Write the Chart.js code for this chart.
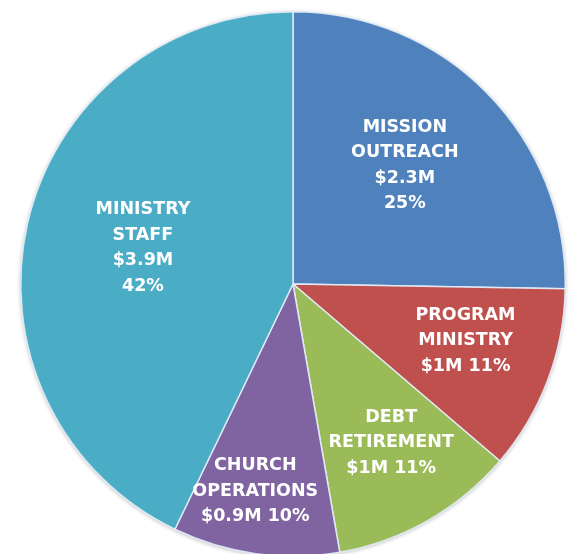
<!DOCTYPE html>
<html>
<head>
<meta charset="utf-8">
<script src="https://cdn.jsdelivr.net/npm/chart.js@4.4.1/dist/chart.umd.min.js"></script>
<style>
  html, body { margin: 0; padding: 0; background: #ffffff; overflow: hidden; width: 574px; height: 554px; }
  #wrap { position: absolute; left: 0; top: 0; width: 586px; height: 566px; }
</style>
</head>
<body>
<div id="wrap"><canvas id="c"></canvas></div>
<script>
// ---- data ----
const categories = ["MISSION\nOUTREACH", "PROGRAM\nMINISTRY", "DEBT\nRETIREMENT", "CHURCH\nOPERATIONS", "MINISTRY\nSTAFF"];
const amounts = [2.3, 1, 1, 0.9, 3.9];            // $ millions
const amountLabels = ["$2.3M", "$1M", "$1M", "$0.9M", "$3.9M"];
const percentLabels = ["25%", "11%", "11%", "10%", "42%"];

// ---- styles ----
const colors = ["#4F81BD", "#C0504D", "#9BBB59", "#8064A2", "#4BACC6"];
// how the amount/percent lines are arranged per slice: separate lines or joined
const joinValueLine = [false, true, true, true, false];
// label placement: fraction of radius and angle tweak (degrees) from slice mid-angle
const labelRadiusFrac = [0.598, 0.667, 0.685, 0.774, 0.567];
const labelAngleTweak = [-2.1, -2.6, -2.1, 2.4, 0.7];

const labelPlugin = {
  id: 'sliceLabels',
  afterDatasetsDraw(chart) {
    const ctx = chart.ctx;
    const meta = chart.getDatasetMeta(0);
    ctx.save();
    ctx.fillStyle = '#ffffff';
    ctx.font = 'bold 17.5px "DejaVu Sans", "Open Sans", sans-serif';
    ctx.textAlign = 'center';
    ctx.textBaseline = 'middle';
    const lh = 25.5;
    meta.data.forEach((arc, i) => {
      const p = arc.getProps(['x', 'y', 'startAngle', 'endAngle', 'outerRadius'], true);
      const mid = (p.startAngle + p.endAngle) / 2 + labelAngleTweak[i] * Math.PI / 180;
      const r = p.outerRadius * labelRadiusFrac[i];
      const cx = p.x + Math.cos(mid) * r;
      const cy = p.y + Math.sin(mid) * r;
      const lines = categories[i].split("\n");
      if (joinValueLine[i]) {
        lines.push(amountLabels[i] + " " + percentLabels[i]);
      } else {
        lines.push(amountLabels[i]);
        lines.push(percentLabels[i]);
      }
      const n = lines.length;
      lines.forEach((t, k) => {
        ctx.fillText(t, cx, cy + (k - (n - 1) / 2) * lh);
      });
    });
    ctx.restore();
  }
};

// soft shadow only around the outer rim of the pie
const shadowPlugin = {
  id: 'softShadow',
  beforeDatasetsDraw(chart) {
    const meta = chart.getDatasetMeta(0);
    if (!meta.data.length) return;
    const p = meta.data[0].getProps(['x', 'y', 'outerRadius'], true);
    const ctx = chart.ctx;
    ctx.save();
    ctx.shadowColor = 'rgba(0,0,0,0.3)';
    ctx.shadowBlur = 4;
    ctx.shadowOffsetY = 1;
    ctx.fillStyle = '#9aa8b8';
    ctx.beginPath();
    ctx.arc(p.x, p.y, p.outerRadius, 0, Math.PI * 2);
    ctx.fill();
    ctx.restore();
  }
};

new Chart(document.getElementById('c'), {
  type: 'pie',
  data: {
    labels: categories.map(c => c.replace("\n", " ")),
    datasets: [{
      data: amounts,
      backgroundColor: colors,
      borderColor: 'rgba(225,236,248,0.95)',
      borderWidth: 1.5
    }]
  },
  options: {
    responsive: true,
    maintainAspectRatio: false,
    animation: false,
    layout: { padding: { top: 11, bottom: 9, left: 20, right: 20 } },
    plugins: {
      legend: { display: false },
      tooltip: { enabled: false }
    }
  },
  plugins: [shadowPlugin, labelPlugin]
});
</script>
</body>
</html>
